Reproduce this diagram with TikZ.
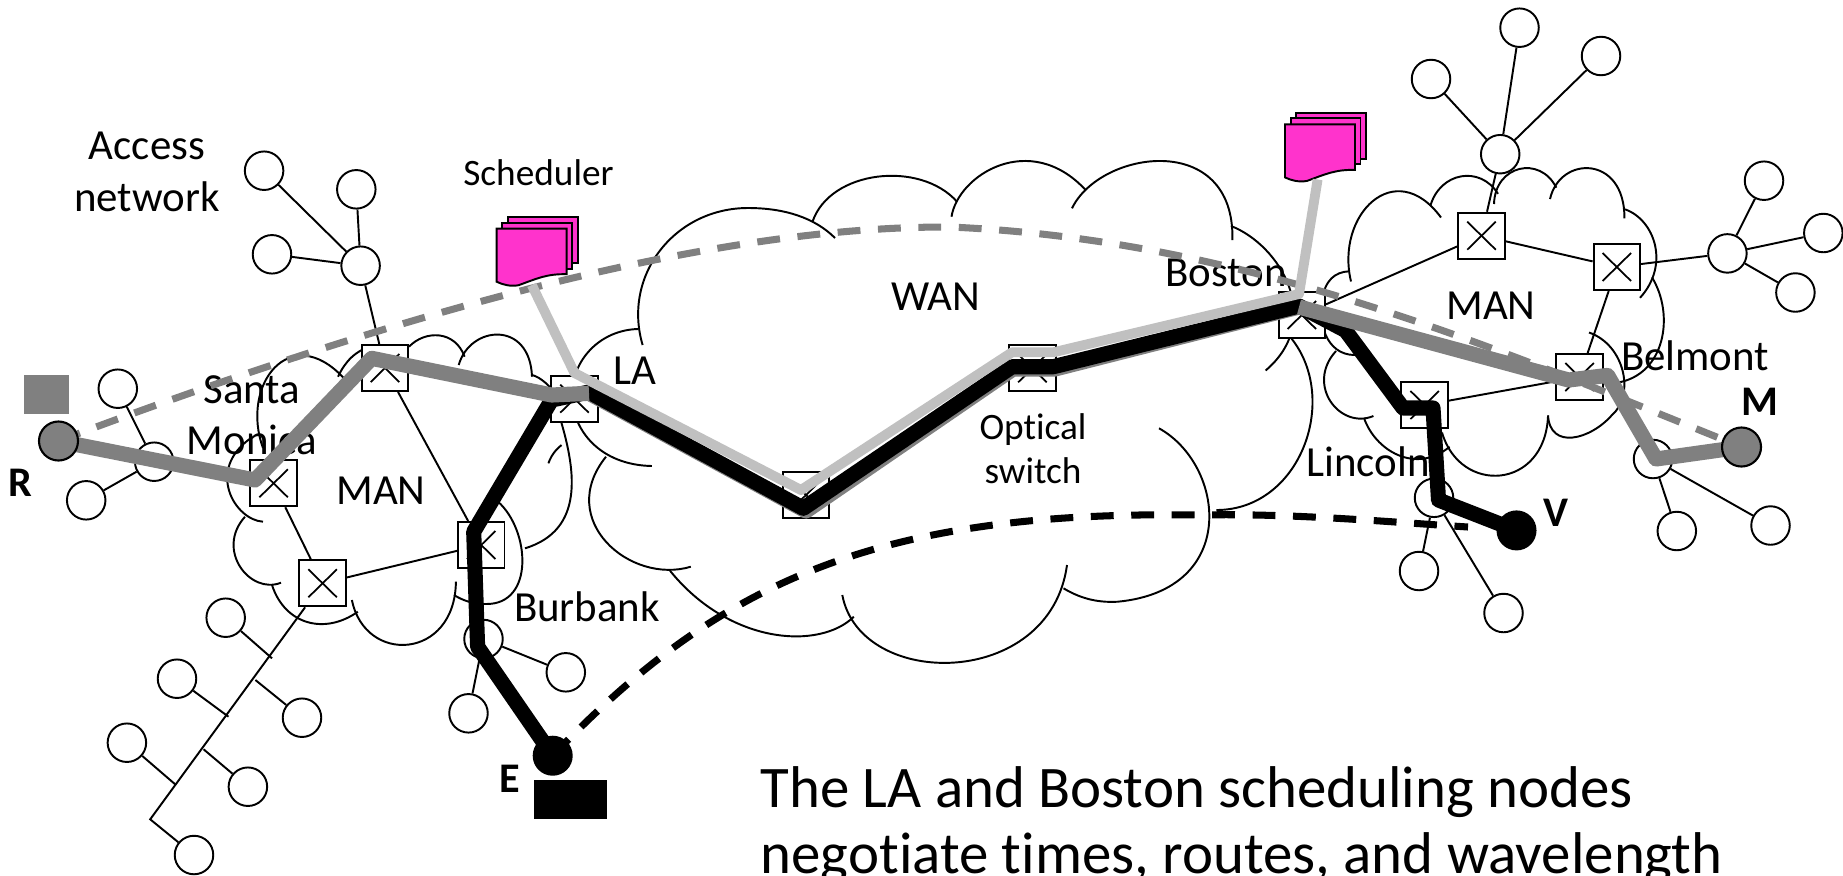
\documentclass[tikz,border=0pt]{standalone}
\usepackage{fontspec}
\setmainfont[Ligatures=NoCommon]{Carlito}
\usetikzlibrary{calc}
\definecolor{routeGray}{RGB}{128,128,128}
\definecolor{routeLight}{RGB}{192,192,192}
\definecolor{schedPink}{RGB}{255,51,204}
\pgfdeclarelayer{endpoints}
\pgfsetlayers{main,endpoints}
\tikzset{
  hostnode/.style={circle,draw,fill=white,line width=0.55pt,minimum size=0.385cm,inner sep=0pt},
  switchbox/.style={rectangle,draw,fill=white,line width=0.55pt,minimum width=0.465cm,minimum height=0.46cm,inner sep=0pt,
    path picture={\draw[line width=0.5pt] ([shift={(0.09cm,0.09cm)}]path picture bounding box.south west) -- ([shift={(-0.09cm,-0.09cm)}]path picture bounding box.north east);
      \draw[line width=0.5pt] ([shift={(0.09cm,-0.09cm)}]path picture bounding box.north west) -- ([shift={(-0.09cm,0.09cm)}]path picture bounding box.south east);}},
  netlink/.style={line width=0.55pt},
  cloudline/.style={line width=0.55pt},
  biglabel/.style={align=center,inner sep=0pt,font=\fontsize{12.2}{14.6}\selectfont},
  smalllabel/.style={align=center,inner sep=0pt,font=\fontsize{10.6}{12.6}\selectfont},
  endlabel/.style={inner sep=0pt,font=\fontsize{12}{14}\selectfont\bfseries},
  routethick/.style={line width=4.3pt,line join=round},
  routethin/.style={line width=2.8pt,line join=round,routeLight},
  signaldash/.style={line width=2pt,dash pattern=on 6.5pt off 5pt}
}
\newcommand{\schedstack}[2]{%
  \begin{scope}[shift={(#1,#2)}]
    \draw[line width=0.55pt,fill=schedPink] (11.4,-11.6) rectangle (81.4,34.4);
    \draw[line width=0.55pt,fill=schedPink] (5.8,-6) rectangle (75.5,40);
    \draw[line width=0.55pt,fill=schedPink] (0,0) -- (70,0) -- (70,45.5) .. controls (50,45) and (40,50) .. (22,56.5) .. controls (14,58) and (6,56) .. (0,53) -- cycle;
  \end{scope}}
\begin{document}
\begin{tikzpicture}[x=0.01cm,y=-0.01cm]
  \useasboundingbox (0,0) rectangle (1843,875);
  \clip (0,0) rectangle (1843,875);
  % WAN cloud
  \draw[cloudline] (642.6,345) .. controls (622,275) and (675,208) .. (748,208) .. controls (785,208) and (815,218) .. (835,238);
  \draw[cloudline] (812.5,221.7) .. controls (830,170) and (920,160) .. (957,201.7);
  \draw[cloudline] (951.5,216.7) .. controls (958,175) and (1030,130) .. (1085.6,190);
  \draw[cloudline] (1072,208.3) .. controls (1100,150) and (1235,130) .. (1232.4,240);
  \draw[cloudline] (1231,226) .. controls (1280,245) and (1325,320) .. (1265.6,370.5);
  \draw[cloudline] (1291.6,338.7) .. controls (1340,400) and (1300,510) .. (1216.4,510);
  \draw[cloudline] (1159,428.3) .. controls (1225,465) and (1240,590) .. (1117.7,601.7) .. controls (1095,603) and (1078,597) .. (1063.5,588.3);
  \draw[cloudline] (1067,565) .. controls (1050,690) and (860,690) .. (842.3,595);
  \draw[cloudline] (853.8,616.7) .. controls (820,650) and (730,645) .. (670,570.7);
  \draw[cloudline] (690.8,566.7) .. controls (630,585) and (555,520) .. (606,456.7);
  \draw[cloudline] (651.8,466) .. controls (600,465) and (572,430) .. (572,395) .. controls (572,360) and (600,330) .. (638,329);
  % left MAN cloud
  \draw[cloudline] (409,346.7) .. controls (425,330) and (455,330) .. (464.6,356.7);
  \draw[cloudline] (458.7,365) .. controls (470,325) and (530,320) .. (532,376.7);
  \draw[cloudline] (532,375) .. controls (540,377) and (550,385) .. (560,400);
  \draw[cloudline] (548.4,463.3) .. controls (552,453) and (558,448) .. (561.5,445);
  \draw[cloudline] (561.5,423) .. controls (575,470) and (585,530) .. (525,548.3);
  \draw[cloudline] (498,501.7) .. controls (530,530) and (535,605) .. (485.5,604) .. controls (472,604) and (462,600) .. (454,595);
  \draw[cloudline] (455.9,581.7) .. controls (455,660) and (365,665) .. (351.9,600);
  \draw[cloudline] (357.8,611.7) .. controls (325,635) and (285,625) .. (272,585);
  \draw[cloudline] (281,582.7) .. controls (250,595) and (215,550) .. (245,516.7);
  \draw[cloudline] (263,521.7) .. controls (235,520) and (205,470) .. (251,438);
  \draw[cloudline] (263,448) .. controls (240,385) and (290,320) .. (344,378.3);
  \draw[cloudline] (338,376.7) .. controls (345,362) and (355,350) .. (375,345);
  % right MAN cloud
  \draw[cloudline] (1351,281.5) .. controls (1335,215) and (1395,155) .. (1441,217.5);
  \draw[cloudline] (1430.3,206) .. controls (1440,172) and (1480,165) .. (1498,193.8);
  \draw[cloudline] (1494,204) .. controls (1495,165) and (1540,155) .. (1556.3,187.7);
  \draw[cloudline] (1550,199) .. controls (1560,155) and (1625,155) .. (1624.4,218.3);
  \draw[cloudline] (1625,209.3) .. controls (1655,220) and (1670,265) .. (1640,297.8);
  \draw[cloudline] (1652,277.4) .. controls (1675,315) and (1665,375) .. (1617,382.7);
  \draw[cloudline] (1589,332.5) .. controls (1625,345) and (1635,395) .. (1612,415) .. controls (1590,440) and (1550,450) .. (1548,415.3);
  \draw[cloudline] (1548,416) .. controls (1545,490) and (1460,495) .. (1442,432.5);
  \draw[cloudline] (1449.6,446.8) .. controls (1415,475) and (1375,450) .. (1364,418);
  \draw[cloudline] (1373.4,416) .. controls (1340,430) and (1305,385) .. (1336,351);
  \draw[cloudline] (1354.8,355) .. controls (1325,355) and (1318,320) .. (1322,300) .. controls (1325,280) and (1335,272) .. (1349,271.3);
  % switches
  \foreach \name/\x/\y in {
    swMonicaTop/385/368, swMonica/273.6/483.3, swLA/574.5/398.7,
    swBurbank/481.2/545, swLower/322.6/583.3, swWanLow/806/495,
    swWanTop/1032.4/368.3, swBoston/1301.8/315, swManTop/1481.5/235.7,
    swManRight/1616.8/267, swBelmont/1579.5/377, swLincoln/1424.7/405}
    \node[switchbox] (\name) at (\x,\y) {};
  % hosts
  \foreach \name/\x/\y in {
    hostA/264.1/170.7, hostB/356.3/189.3, hostC/272/254.3, hubTop/360.6/265.7,
    hostD/117.8/388.7, hubLeft/154.2/461.7, hostE/86.2/500.3,
    hubBurbank/483.5/639, hostF/565.8/672.3, hostG/468.5/713.3,
    treeA/225.7/617.7, treeB/302/717.7, treeC/177/678.7, treeD/247.9/786.7, treeE/126.9/742.7, treeF/194/855,
    hubMan/1500.2/154.2, hostH/1519.5/27.7, hostI/1431/79, hostJ/1601/56,
    hubRight/1727.4/253.4, hostK/1764/180.7, hostL/1823.3/233, hostM/1795.4/292.5,
    hubBelmont/1653/459, hostN/1676.8/531, hostO/1770.5/525.5,
    hubLincoln/1434/497.8, hostP/1419/571, hostQ/1503.5/613}
    \node[hostnode] (\name) at (\x,\y) {};
  % access branches
  \coordinate (treeEnd) at (150.2,819.3);
  \foreach \a/\b in {hubTop/hostA, hubTop/hostB, hubTop/hostC, hubTop/swMonicaTop,
    hubLeft/hostD, hubLeft/hostE, hubBurbank/hostF, hubBurbank/hostG,
    hubMan/hostH, hubMan/hostI, hubMan/hostJ, hubMan/swManTop,
    hubRight/hostK, hubRight/hostL, hubRight/hostM, hubRight/swManRight,
    hubBelmont/hostN, hubBelmont/hostO, hubLincoln/hostP, hubLincoln/hostQ,
    swMonicaTop/swBurbank, swMonica/swLower, swLower/swBurbank,
    swBoston/swManTop, swManTop/swManRight, swManRight/swBelmont, swBelmont/swLincoln}
    \draw[netlink] (\a) -- (\b);
  \draw[netlink] (swLower) -- (treeEnd) -- (treeF);
  \foreach \host/\x/\y in {treeA/272/658.3, treeB/255.4/680, treeC/228.5/716.7, treeD/203.6/749.3, treeE/176/785}
    \draw[netlink] (\host) -- (\x,\y);
  % labels
  \node[biglabel] (accessLabel) at (147,172) {Access\\network};
  \node[smalllabel] (schedLabel) at (538.5,173) {Scheduler};
  \node[biglabel] (monicaLabel) at (252,415) {Santa\\Monica};
  \node[biglabel] (manLeft) at (381,491) {MAN};
  \node[biglabel] (laLabel) at (635,371) {LA};
  \node[biglabel] (burbankLabel) at (587,607) {Burbank};
  \node[biglabel] (wanLabel) at (936,297) {WAN};
  \node[smalllabel] (opticalLabel) at (1033,449) {Optical\\switch};
  \node[biglabel] (bostonLabel) at (1226,273) {Boston};
  \node[biglabel] (manRight) at (1491,306) {MAN};
  \node[biglabel] (belmontLabel) at (1695,356) {Belmont};
  \node[biglabel] (lincolnLabel) at (1368,462) {Lincoln};
  \node[anchor=base west,inner sep=0pt,align=left,font=\fontsize{16.75}{18.5}\selectfont] (noteLabel) at (760,873) {The LA and Boston scheduling nodes\\negotiate times, routes, and wavelength};
  % end stations
  \begin{pgfonlayer}{endpoints}
    \node[circle,draw,fill=routeGray,line width=0.6pt,minimum size=0.39cm,inner sep=0pt] (stationR) at (58.5,441) {};
    \node[circle,draw,fill=routeGray,line width=0.6pt,minimum size=0.39cm,inner sep=0pt] (stationM) at (1741.5,447) {};
    \node[circle,fill=black,minimum size=0.4cm,inner sep=0pt] (stationE) at (552.7,755.7) {};
    \node[circle,fill=black,minimum size=0.4cm,inner sep=0pt] (stationV) at (1516.5,530.4) {};
  \end{pgfonlayer}
  \fill[routeGray] (24.1,375) rectangle (69.2,413.7);
  \fill[black] (534,780) rectangle (607,819.3);
  \node[endlabel] (labelR) at (20.6,483) {R};
  \node[endlabel] (labelE) at (510,779) {E};
  \node[endlabel] (labelV) at (1556,513) {V};
  \node[endlabel] (labelM) at (1760,402) {M};
  % signalling paths
  \coordinate (grayTop) at (950,227);
  \coordinate (blackMid) at (1200,515);
  \coordinate (blackEnd) at (1468,527);
  \draw[signaldash,routeGray] (stationR.center) .. controls (380,320) and (700,226) .. (grayTop) .. controls (1250,240) and (1500,350) .. (stationM.center);
  \draw[signaldash,black] (stationE.center) .. controls (720,580) and (880,510) .. (blackMid) .. controls (1290,513) and (1390,522) .. (blackEnd);
  % scheduling nodes
  \schedstack{496.6}{228.7}
  \schedstack{1285}{124.4}
  \coordinate (schedLeft) at (531.8,285);
  \coordinate (schedRight) at (1317.6,179.5);
  % lightpaths
  \foreach \name/\x/\y in {
    gA/255/480, gB/371.7/358.3, gC/551.6/395, gD/589/393.3,
    gE/806/511, gF/1013/369, gG/1055/369, gH/1299/307,
    gI/1568.6/380, gJ/1607.6/375.4, gK/1656/459,
    kA/477.6/646.7, kB/473.7/531.7, kC/551.6/400, kD/589/392,
    kE/803.3/508.3, kF/1012/366.7, kG/1053.4/366.7, kH/1299/306,
    kI/1345.5/330.5, kJ/1403/408, kK/1433/408, kL/1438.5/500,
    lA/574.5/373, lB/801/490, lC/1012/352.3, lD/1053.4/352.3, lE/1299/294}
    \coordinate (\name) at (\x,\y);
  \draw[routethick,routeGray] (gD) -- (gE) -- (gF) -- (gG) -- (gH);
  \draw[routethick,black] (stationE.center) -- (kA) -- (kB) -- (kC) -- (kD) -- (kE) -- (kF) -- (kG) -- (kH) -- (kI) -- (kJ) -- (kK) -- (kL) -- (stationV.center);
  \draw[routethin] (schedLeft) -- (lA) -- (lB) -- (lC) -- (lD) -- (lE) -- (schedRight);
  \draw[routethick,routeGray] (stationR.center) -- (gA) -- (gB) -- (gC) -- (gD);
  \draw[routethick,routeGray] (gH) -- (gI) -- (gJ) -- (gK) -- (stationM.center);
\end{tikzpicture}
\end{document}
